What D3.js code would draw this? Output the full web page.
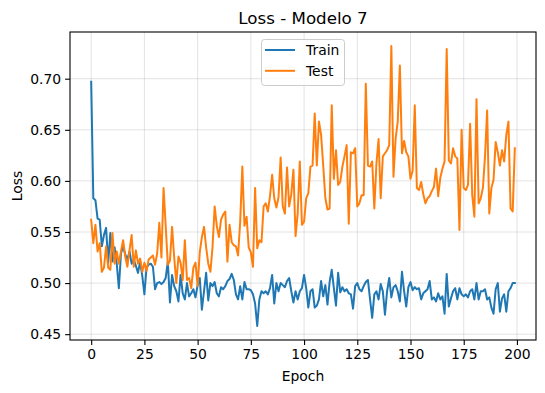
<!DOCTYPE html>
<html>
<head>
<meta charset="utf-8">
<script src="https://cdn.jsdelivr.net/npm/d3@7"></script>
<style>
  html, body { margin: 0; padding: 0; background: #fff; }
  svg { display: block; font-family: "DejaVu Sans", sans-serif; }
</style>
</head>
<body>
<svg id="chart" width="545" height="393"></svg>
<script>
const trainLoss = [
0.697,0.583,0.581,0.563,0.562,0.536,0.547,0.554,0.520,0.549,
0.521,0.535,0.519,0.495,0.529,0.536,0.528,0.523,0.531,0.519,
0.523,0.517,0.510,0.521,0.507,0.489,0.515,0.518,0.519,0.516,
0.494,0.500,0.501,0.499,0.501,0.505,0.521,0.481,0.508,0.497,
0.492,0.482,0.508,0.490,0.484,0.500,0.487,0.490,0.494,0.486,
0.498,0.505,0.474,0.492,0.510,0.483,0.500,0.497,0.501,0.490,
0.487,0.496,0.494,0.497,0.502,0.504,0.509,0.503,0.489,0.484,
0.497,0.484,0.501,0.494,0.494,0.493,0.489,0.480,0.458,0.484,
0.492,0.490,0.492,0.489,0.495,0.508,0.480,0.500,0.492,0.500,
0.498,0.496,0.502,0.505,0.492,0.481,0.492,0.484,0.492,0.495,
0.508,0.495,0.476,0.492,0.494,0.476,0.478,0.484,0.502,0.487,
0.498,0.479,0.501,0.513,0.495,0.478,0.510,0.491,0.496,0.492,
0.494,0.490,0.489,0.475,0.497,0.500,0.494,0.492,0.497,0.501,
0.503,0.484,0.466,0.489,0.492,0.484,0.499,0.492,0.469,0.492,
0.505,0.486,0.496,0.498,0.492,0.482,0.511,0.492,0.477,0.496,
0.501,0.493,0.496,0.494,0.495,0.484,0.490,0.492,0.494,0.502,
0.484,0.486,0.482,0.490,0.484,0.487,0.470,0.509,0.477,0.485,
0.492,0.495,0.484,0.495,0.489,0.487,0.489,0.486,0.492,0.494,
0.484,0.500,0.484,0.492,0.492,0.494,0.484,0.486,0.476,0.470,
0.494,0.500,0.472,0.485,0.489,0.472,0.492,0.495,0.500,0.500
];
const testLoss = [
0.562,0.539,0.557,0.531,0.539,0.511,0.515,0.536,0.515,0.513,
0.549,0.519,0.531,0.519,0.531,0.542,0.526,0.516,0.532,0.547,
0.516,0.532,0.519,0.524,0.511,0.520,0.512,0.523,0.525,0.527,
0.518,0.529,0.559,0.525,0.593,0.556,0.518,0.522,0.555,0.525,
0.500,0.526,0.520,0.503,0.542,0.503,0.505,0.495,0.515,0.520,
0.497,0.530,0.545,0.555,0.535,0.519,0.511,0.535,0.575,0.556,
0.545,0.562,0.567,0.570,0.521,0.557,0.540,0.537,0.536,0.527,
0.560,0.614,0.556,0.565,0.535,0.530,0.516,0.593,0.534,0.542,
0.540,0.575,0.578,0.570,0.585,0.606,0.583,0.574,0.584,0.623,
0.575,0.568,0.613,0.575,0.587,0.611,0.546,0.568,0.619,0.557,
0.560,0.583,0.588,0.614,0.615,0.666,0.615,0.658,0.645,0.615,
0.583,0.572,0.573,0.674,0.602,0.630,0.596,0.599,0.614,0.624,
0.635,0.558,0.628,0.627,0.632,0.575,0.578,0.586,0.586,0.695,
0.615,0.614,0.619,0.573,0.617,0.641,0.583,0.624,0.627,0.630,
0.635,0.732,0.604,0.641,0.658,0.713,0.627,0.639,0.628,0.624,
0.602,0.610,0.674,0.593,0.591,0.599,0.587,0.578,0.583,0.585,
0.590,0.594,0.612,0.585,0.603,0.612,0.619,0.729,0.620,0.617,
0.632,0.624,0.622,0.552,0.650,0.593,0.591,0.596,0.656,0.586,
0.565,0.680,0.578,0.583,0.593,0.624,0.669,0.568,0.593,0.601,
0.638,0.628,0.615,0.630,0.619,0.645,0.658,0.573,0.570,0.632
];
const xTicks = [0, 25, 50, 75, 100, 125, 150, 175, 200];
const yTicks = [0.45, 0.50, 0.55, 0.60, 0.65, 0.70];
const seriesNames = ["Train", "Test"];
const seriesColors = ["#1f77b4", "#ff7f0e"];
const titleText = "Loss - Modelo 7";
const xLabelText = "Epoch";
const yLabelText = "Loss";

const L = 70, R = 536, T = 32, B = 340;
const svg = d3.select("#chart");

const n = trainLoss.length;
const xPad = (n - 1) * 0.05;
const x = d3.scaleLinear().domain([-xPad, (n - 1) + xPad]).range([L, R]);
const allVals = trainLoss.concat(testLoss);
const yMin = d3.min(allVals), yMax = d3.max(allVals);
const yPad = (yMax - yMin) * 0.05;
const y = d3.scaleLinear().domain([yMin - yPad, yMax + yPad]).range([B, T]);

// grid
const grid = svg.append("g");
grid.selectAll(".gx").data(xTicks).join("line")
  .attr("x1", d => x(d)).attr("x2", d => x(d)).attr("y1", T).attr("y2", B)
  .attr("stroke", "#b0b0b0").attr("stroke-opacity", 0.35).attr("stroke-width", 1);
grid.selectAll(".gy").data(yTicks).join("line")
  .attr("y1", d => y(d)).attr("y2", d => y(d)).attr("x1", L).attr("x2", R)
  .attr("stroke", "#b0b0b0").attr("stroke-opacity", 0.35).attr("stroke-width", 1);

// lines
const line = d3.line().x((d, i) => x(i)).y(d => y(d));
[trainLoss, testLoss].forEach((s, k) => {
  svg.append("path").datum(s)
    .attr("d", line).attr("fill", "none")
    .attr("stroke", seriesColors[k]).attr("stroke-width", 2)
    .attr("stroke-linejoin", "round").attr("stroke-linecap", "square");
});

// axes
const xAxis = d3.axisBottom(x).tickValues(xTicks).tickFormat(d3.format("d")).tickSize(4.9).tickPadding(4);
const yAxis = d3.axisLeft(y).tickValues(yTicks).tickFormat(d3.format(".2f")).tickSize(4.9).tickPadding(4);
const gx = svg.append("g").attr("transform", `translate(0,${B})`).call(xAxis);
const gy = svg.append("g").attr("transform", `translate(${L},0)`).call(yAxis);
[gx, gy].forEach(g => {
  g.select(".domain").remove();
  g.selectAll("line").attr("stroke", "#000").attr("stroke-width", 1.1);
  g.selectAll("text").attr("fill", "#000").style("font-size", "13.9px").style("font-family", "DejaVu Sans");
});

// frame
svg.append("rect").attr("x", L).attr("y", T).attr("width", R - L).attr("height", B - T)
  .attr("fill", "none").attr("stroke", "#000").attr("stroke-width", 1.1);

// title & labels
svg.append("text").attr("x", (L + R) / 2).attr("y", 24).attr("text-anchor", "middle")
  .style("font-size", "16.7px").text(titleText);
svg.append("text").attr("x", (L + R) / 2).attr("y", 381).attr("text-anchor", "middle")
  .style("font-size", "13.9px").text(xLabelText);
svg.append("text").attr("transform", `translate(22,${(T + B) / 2}) rotate(-90)`).attr("text-anchor", "middle")
  .style("font-size", "13.9px").text(yLabelText);

// legend
const lg = svg.append("g");
lg.append("rect").attr("x", 261.5).attr("y", 39.5).attr("width", 83).attr("height", 46).attr("rx", 3)
  .attr("fill", "#fff").attr("fill-opacity", 0.8).attr("stroke", "#cccccc").attr("stroke-width", 1);
seriesNames.forEach((name, i) => {
  const yy = 50 + i * 20.8;
  lg.append("line").attr("x1", 265).attr("x2", 295).attr("y1", yy).attr("y2", yy)
    .attr("stroke", seriesColors[i]).attr("stroke-width", 2);
  lg.append("text").attr("x", 306).attr("y", yy).attr("dy", "0.36em")
    .style("font-size", "13.9px").text(name);
});
</script>
</body>
</html>
